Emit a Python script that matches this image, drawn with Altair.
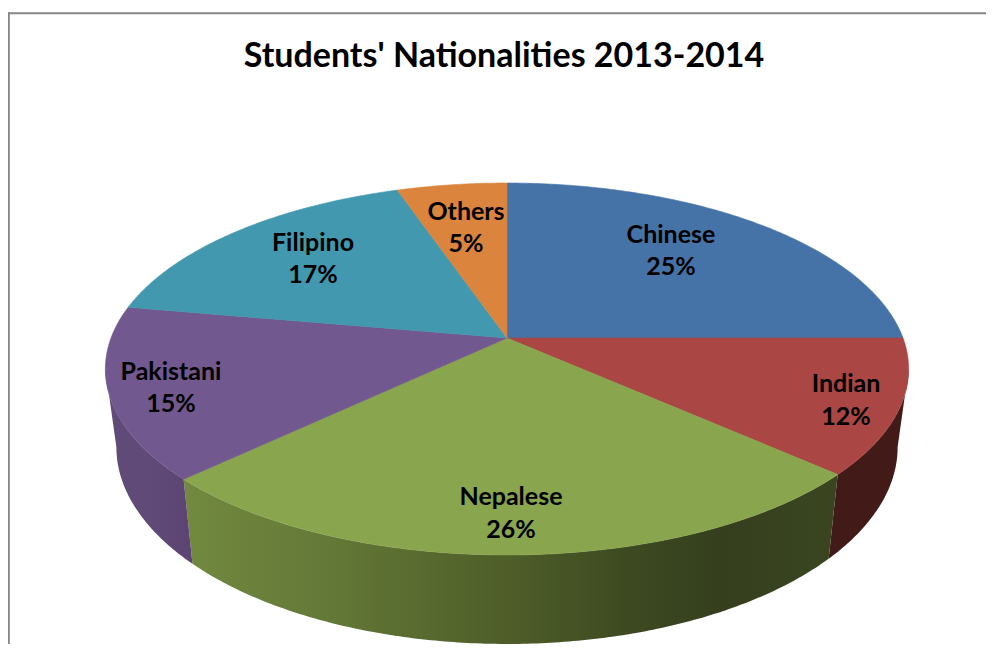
import math
import altair as alt

# Chart values (share of students, percent)
names = ["Chinese", "Indian", "Nepalese", "Pakistani", "Filipino", "Others"]
shares = [25.0, 11.7, 26.15, 14.95, 17.0, 5.2]
top_colors = ["#4572A7", "#AA4643", "#89A54E", "#71588F", "#4198AF", "#DB843D"]
TITLE = "Students' Nationalities 2013-2014"

# Layout of the drawing, in page pixels
W, H = 978, 636
APEX_X, APEX_Y = 507, 338
A, B, K = 396.0, 180.8, 0.1667
TOP_C_Y, TOP_RX, TOP_RY = 369.0, 402.0, 186.0
LOW_C_Y, LOW_RX, LOW_RY = 447.0, 391.0, 197.0
label_pos = {
    "Chinese": (671, 235, 267), "Indian": (846, 384, 417), "Nepalese": (511, 497, 530),
    "Pakistani": (171, 372, 404), "Filipino": (313, 243, 275), "Others": (466, 212, 244),
}


def rim(theta):
    w = 1 + K * math.cos(theta)
    return (APEX_X + A * math.sin(theta) / w, APEX_Y - B * math.cos(theta) / w)


def lower(p):
    c = (p[0] - APEX_X) / TOP_RX
    s = (p[1] - TOP_C_Y) / TOP_RY
    return (APEX_X + LOW_RX * c, LOW_C_Y + LOW_RY * s)


def arc_points(a, b):
    n = max(2, int(abs(b - a) / 0.01))
    return [rim(a + (b - a) * i / n) for i in range(n + 1)]


def feature(name, pts):
    ring = [list(p) for p in pts] + [list(pts[0])]
    return {"type": "Feature", "properties": {"name": name},
            "geometry": {"type": "Polygon", "coordinates": [ring]}}


total = sum(shares)
bounds = [0.0]
for v in shares:
    bounds.append(bounds[-1] + v / total * 2 * math.pi)

tops = []
walls = {}
vis_a = math.acos(-K)
vis_b = 2 * math.pi - vis_a
for n, a, b in zip(names, bounds[:-1], bounds[1:]):
    tops.append(feature(n, [(APEX_X, APEX_Y)] + arc_points(a, b)))
    a2, b2 = max(a, vis_a), min(b, vis_b)
    if b2 > a2:
        up = arc_points(a2, b2)
        walls[n] = feature(n, up + [lower(p) for p in reversed(up)])

projection = alt.Projection(type="identity", scale=1, translate=[-8, -8])


def wall_layer(name, fill):
    return alt.Chart(alt.Data(values=[walls[name]])).mark_geoshape(
        fill=fill, stroke=None, strokeWidth=0).project(**projection.to_dict())


def grad(stops):
    return alt.Gradient(gradient="linear", x1=0, x2=1, y1=0, y2=0,
                        stops=[alt.GradientStop(offset=o, color=c) for o, c in stops])


red_wall = wall_layer("Indian", "#421B18")
green_wall = wall_layer("Nepalese", grad([(0, "#72893F"), (0.2, "#657A38"), (0.45, "#52622B"),
                                          (0.68, "#3D4A21"), (0.82, "#353F1E"), (1, "#3A4520")]))
purple_wall = wall_layer("Pakistani", grad([(0, "#5F4A78"), (0.5, "#5F4A78"), (1, "#5C4472")]))

color_scale = alt.Scale(domain=names, range=top_colors)
top_layer = alt.Chart(alt.Data(values=tops)).mark_geoshape(strokeWidth=0.6).encode(
    color=alt.Color("properties.name:N", scale=color_scale, legend=None),
    stroke=alt.Stroke("properties.name:N", scale=color_scale, legend=None),
).project(**projection.to_dict())

rows = []
for n, v in zip(names, shares):
    x, y1, y2 = label_pos[n]
    rows.append({"t": n, "lon": x, "lat": y1})
    rows.append({"t": f"{round(v)}%", "lon": x, "lat": y2})

labels = alt.Chart(alt.Data(values=rows)).mark_text(
    font="Lato", fontWeight="bold", fontSize=25, color="#000000", baseline="middle", align="center"
).encode(longitude="lon:Q", latitude="lat:Q", text="t:N").project(**projection.to_dict())

frame_top = alt.Chart(alt.Data(values=[{"a": 1}])).mark_rule(color="#868686", strokeWidth=2).encode(
    x=alt.value(0), x2=alt.value(W), y=alt.value(5.2))
frame_left = alt.Chart(alt.Data(values=[{"a": 1}])).mark_rule(color="#868686", strokeWidth=2).encode(
    x=alt.value(0.8), y=alt.value(4.2), y2=alt.value(H))

chart = alt.layer(frame_top, frame_left, red_wall, green_wall, purple_wall, top_layer, labels).properties(
    width=W, height=H, padding=0,
    autosize=alt.AutoSizeParams(type="none"),
    title=alt.TitleParams(TITLE, font="Lato", fontWeight="bold", fontSize=34, color="#000000",
                          anchor="middle", offset=-66, dx=7),
).configure_view(stroke=None)

chart.save("out.html", embed_options={"renderer": "svg", "actions": False})
